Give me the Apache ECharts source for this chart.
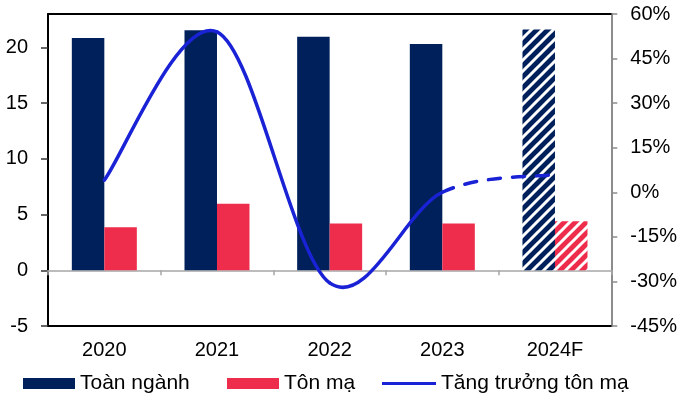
<!DOCTYPE html>
<html>
<head>
<meta charset="utf-8">
<script src="https://cdn.jsdelivr.net/npm/echarts@6/dist/echarts.min.js"></script>
<style>
  html, body { margin: 0; padding: 0; background: #fff; }
  #chart { width: 680px; height: 396px; }
</style>
</head>
<body>
<div id="chart"></div>
<script>
// Sản lượng tiêu thụ thép (triệu tấn) và tăng trưởng tôn mạ
const categories = ['2020', '2021', '2022', '2023', '2024F'];
const toanNganh = [20.85, 21.55, 20.95, 20.3, 21.6];
const tonMa = [3.87, 5.96, 4.2, 4.2, 4.4];
const tangTruong = [4.1, 54, -30.5, 0, 6];
const leftTicks = [-5, 0, 5, 10, 15, 20];
const rightMin = -45, rightMax = 60, rightStep = 15;

const NAVY = '#00205b';
const RED = '#ee2d4d';
const BLUE = '#1a22d6';
const FONT = '"Liberation Sans", Arial, sans-serif';
const forecastIndex = categories.length - 1;

// diagonal hatch used for the forecast year
function hatch(base) {
  const s = 11;
  const c = document.createElement('canvas');
  c.width = s; c.height = s;
  const g = c.getContext('2d');
  g.fillStyle = base;
  g.fillRect(0, 0, s, s);
  g.strokeStyle = '#ffffff';
  g.lineWidth = 3;
  g.beginPath();
  for (let k = -1; k <= 1; k++) {
    g.moveTo(k * s - 1, s + 1);
    g.lineTo(k * s + s + 1, -1);
  }
  g.stroke();
  return { image: c, repeat: 'repeat' };
}

function barData(values, base) {
  return values.map((v, i) => i === forecastIndex
    ? { value: v, itemStyle: { color: hatch(base) } }
    : v);
}

// Smooth growth curve (Catmull-Rom style Bézier through every point);
// the segment into the forecast year is dashed.
function renderGrowth(params, api) {
  const pts = tangTruong.map((v, i) => api.coord([i, v]));
  const n = pts.length;
  const children = [];
  for (let i = 0; i < n - 1; i++) {
    const p0 = pts[Math.max(i - 1, 0)];
    const p1 = pts[i];
    const p2 = pts[i + 1];
    const p3 = pts[Math.min(i + 2, n - 1)];
    const forecast = (i + 1) === forecastIndex;
    children.push({
      type: 'bezierCurve',
      shape: {
        x1: p1[0], y1: p1[1],
        cpx1: p1[0] + (p2[0] - p0[0]) / 6, cpy1: p1[1] + (p2[1] - p0[1]) / 6,
        cpx2: p2[0] - (p3[0] - p1[0]) / 6, cpy2: p2[1] - (p3[1] - p1[1]) / 6,
        x2: p2[0], y2: p2[1]
      },
      style: {
        stroke: BLUE, fill: null, lineWidth: 3.5, lineCap: 'round',
        lineDash: forecast ? [12, 12] : null
      }
    });
  }
  return { type: 'group', children };
}

const chart = echarts.init(document.getElementById('chart'), null, { renderer: 'canvas' });

const legendBase = {
  top: 373,
  padding: 0,
  itemHeight: 11,
  itemWidth: 52,
  textStyle: { fontFamily: FONT, fontSize: 21, color: '#000' },
  selectedMode: false
};

chart.setOption({
  animation: false,
  backgroundColor: '#fff',
  grid: { left: 48, right: 65, top: 14, bottom: 70, containLabel: false },
  legend: [
    Object.assign({}, legendBase, { left: 23, data: [{ name: 'Toàn ngành', icon: 'rect' }] }),
    Object.assign({}, legendBase, { left: 227, data: [{ name: 'Tôn mạ', icon: 'rect' }] }),
    Object.assign({}, legendBase, {
      left: 382, itemWidth: 54, itemHeight: 3,
      itemStyle: { color: BLUE },
      data: [{ name: 'Tăng trưởng tôn mạ', icon: 'rect' }]
    })
  ],
  xAxis: [
    { // zero line with category ticks
      type: 'category', data: categories, position: 'bottom',
      axisLine: { onZero: true, lineStyle: { color: '#a6a6a6', width: 1.5 } },
      axisTick: { show: true, length: 5, lineStyle: { color: '#a6a6a6', width: 1.5 } },
      axisLabel: { show: false }, splitLine: { show: false }
    },
    { // bottom frame and year labels
      type: 'category', data: categories, position: 'bottom',
      axisLine: { onZero: false, lineStyle: { color: '#000', width: 2 } },
      axisTick: { show: false },
      axisLabel: { margin: 14, fontFamily: FONT, fontSize: 20, color: '#000' },
      splitLine: { show: false }
    },
    { // top frame
      type: 'category', data: categories, position: 'top',
      axisLine: { onZero: false, lineStyle: { color: '#000', width: 2 } },
      axisTick: { show: false }, axisLabel: { show: false }, splitLine: { show: false }
    }
  ],
  yAxis: [
    {
      type: 'value', min: -5, max: 23, interval: 5, position: 'left',
      axisLine: { show: true, onZero: false, lineStyle: { color: '#000', width: 2 } },
      axisTick: { show: true, length: 7, customValues: leftTicks, lineStyle: { color: '#333', width: 1.5 } },
      axisLabel: { margin: 20, customValues: leftTicks, fontFamily: FONT, fontSize: 20, color: '#000' },
      splitLine: { show: false }
    },
    {
      type: 'value', min: rightMin, max: rightMax, interval: rightStep, position: 'right',
      axisLine: { show: true, onZero: false, lineStyle: { color: '#8c8c8c', width: 2 } },
      axisTick: { show: true, length: 6, lineStyle: { color: '#8c8c8c', width: 1.5 } },
      axisLabel: { margin: 19, fontFamily: FONT, fontSize: 20, color: '#000',
        formatter: v => v + '%' },
      splitLine: { show: false }
    }
  ],
  series: [
    {
      name: 'Toàn ngành', type: 'bar', xAxisIndex: 0, yAxisIndex: 0,
      barWidth: 32.5, barGap: '0%',
      itemStyle: { color: NAVY },
      data: barData(toanNganh, NAVY)
    },
    {
      name: 'Tôn mạ', type: 'bar', xAxisIndex: 0, yAxisIndex: 0,
      barWidth: 32.5, barGap: '0%',
      itemStyle: { color: RED },
      data: barData(tonMa, RED)
    },
    {
      name: 'Tăng trưởng tôn mạ', type: 'custom', xAxisIndex: 0, yAxisIndex: 1,
      coordinateSystem: 'cartesian2d',
      itemStyle: { color: BLUE },
      encode: { x: 0, y: 1 },
      data: [[0, tangTruong[0]]],
      renderItem: renderGrowth,
      z: 3
    }
  ]
});
</script>
</body>
</html>
